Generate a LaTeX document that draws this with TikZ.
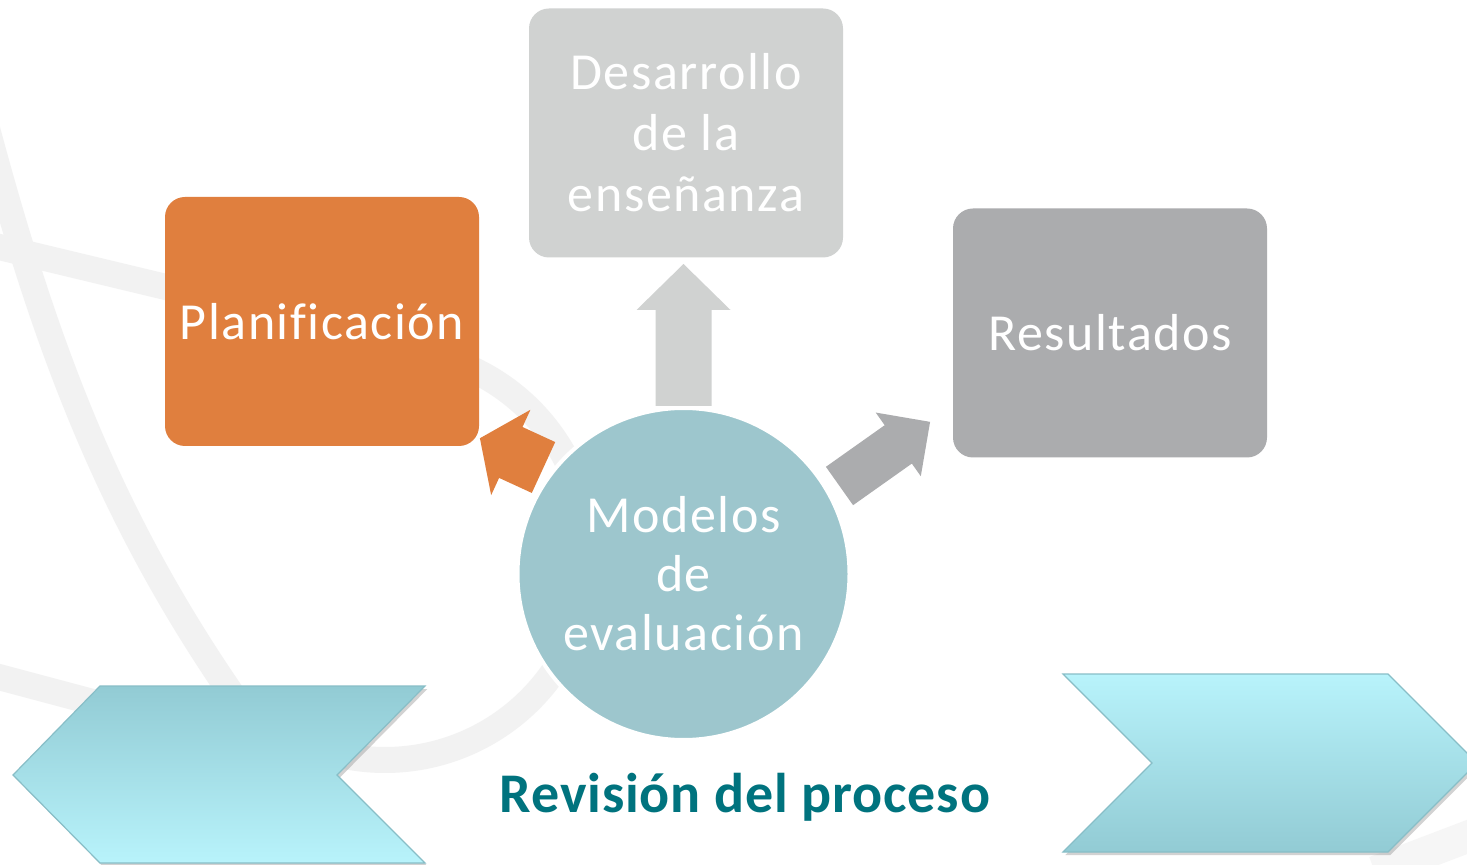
\documentclass[tikz,border=0pt]{standalone}
\usepackage{fontspec}
\setmainfont{Carlito}
\newfontfamily\boxfont[LetterSpace=3, Ligatures=NoCommon]{Carlito}
\newfontfamily\titlefont[LetterSpace=1.5]{Carlito}
\usepackage{xcolor}
\usetikzlibrary{positioning, shadows, calc}

\definecolor{planorange}{HTML}{E07F3E}
\definecolor{desagray}{HTML}{D0D2D1}
\definecolor{resugray}{HTML}{ABACAE}
\definecolor{evalblue}{HTML}{9DC6CD}
\definecolor{titleteal}{HTML}{00737E}
\definecolor{chevdark}{HTML}{92CBD4}
\definecolor{chevlight}{HTML}{B8F3FB}
\definecolor{chevline}{HTML}{88BEC7}
\definecolor{bandgray}{HTML}{F2F2F2}

% block arrow: colour, foot, angle, length, shaft half width, head half width, head length
\newcommand{\blockarrow}[7]{%
	\fill[#1, shift={#2}, rotate=#3]
	(0,-#5) -- ({#4-#7},-#5) -- ({#4-#7},-#6) -- (#4,0)
	-- ({#4-#7},#6) -- ({#4-#7},#5) -- (0,#5) -- cycle;}

\tikzset{
	stepbox/.style={rounded corners=10pt, minimum width=157pt, minimum height=124.5pt,
		inner sep=0pt, align=center, text=white, font=\boxfont\fontsize{26}{30.5}\selectfont},
	hub/.style={circle, fill=evalblue, draw=white, line width=2pt, minimum size=166pt,
		inner sep=0pt, align=center, text=white, font=\boxfont\fontsize{26}{29.5}\selectfont},
	band/.style={draw=bandgray, line width=13pt},
	chev/.style={draw=chevline, line width=0.6pt,
		drop shadow={opacity=0.35, shadow xshift=1.2pt, shadow yshift=-1.5pt}},
}

\begin{document}
\begin{tikzpicture}[x=0.5pt, y=-0.5pt]
	\fill[white] (0,0) rectangle (1467,865);
	\useasboundingbox (0,0) rectangle (1467,865);

	% background bands
	\draw[band] (-14,125) .. controls (45,345) and (110,525) .. (250,720);
	\draw[band] (-5,246) -- (170,288);
	\draw[band] (-5,676) -- (115,708);
	\draw[band] (385,555) ++(-75:205) arc[start angle=-75, end angle=110, radius=205];
	\draw[band, draw=bandgray!70!white, line width=16pt] (1375,872) -- (1480,832);

	% boxes
	\node[stepbox, fill=planorange] (plan) at (322,321.5) {Planificación};
	\node[stepbox, fill=desagray] (desa) at (686,133) {Desarrollo\\de la\\enseñanza};
	\node[stepbox, fill=resugray] (resu) at (1110,333) {Resultados};
	\node[hub] (eval) at (683.5,574) {Modelos\\de\\evaluación};

	% arrows out of the hub
	\coordinate (desafoot) at (683.5,406);
	\coordinate (resufoot) at (839.5,486);
	\coordinate (planfoot) at (543.5,467.5);
	\blockarrow{desagray}{(desafoot)}{90}{142}{28}{47}{46}
	\blockarrow{resugray}{(resufoot)}{35.3}{111}{23.5}{39}{39}
	\blockarrow{planorange}{(planfoot)}{155.3}{70}{28}{47}{34}

	% chevrons
	\path[chev, top color=chevdark, bottom color=chevlight]
	(100,686) -- (425,686) -- (337,775) -- (425,863) -- (100,863) -- (13,775) -- cycle;
	\path[chev, top color=chevlight, bottom color=chevdark]
	(1063,674) -- (1388,674) -- (1477,763) -- (1388,852) -- (1063,852) -- (1152,763) -- cycle;

	\node[text=titleteal, font=\titlefont\bfseries\fontsize{28}{34}\selectfont] (title) at (745,797) {Revisión del proceso};
\end{tikzpicture}
\end{document}
